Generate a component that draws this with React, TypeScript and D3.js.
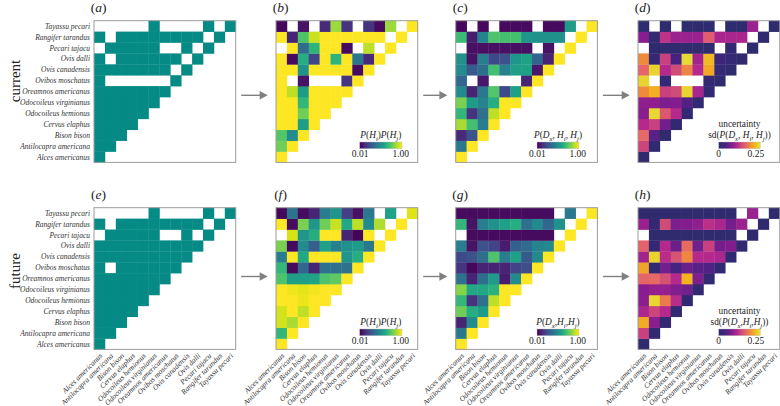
import React from "react";
import * as d3 from "d3";

const species = [
  "Alces americanus", "Antilocapra americana", "Bison bison", "Cervus elaphus",
  "Odocoileus hemionus", "Odocoileus virginianus", "Oreamnos americanus",
  "Ovibos moschatus", "Ovis canadensis", "Ovis dalli", "Pecari tajacu",
  "Rangifer tarandus", "Tayassu pecari",
];

// rows: index 0 = Alces americanus (bottom) ... 12 = Tayassu pecari (top); row r has r+1 columns
const presenceCurrent: number[][] = [
  [1],
  [1, 1],
  [1, 1, 1],
  [1, 1, 1, 1],
  [1, 1, 1, 1, 1],
  [1, 1, 1, 1, 1, 1],
  [1, 1, 1, 1, 1, 1, 1],
  [1, 0, 0, 0, 0, 0, 0, 1],
  [1, 1, 1, 1, 1, 1, 1, 0, 1],
  [1, 0, 1, 1, 1, 1, 1, 1, 0, 1],
  [0, 1, 1, 1, 1, 1, 0, 0, 1, 0, 1],
  [1, 0, 1, 1, 1, 1, 1, 1, 1, 1, 0, 1],
  [0, 0, 0, 0, 0, 1, 0, 0, 0, 0, 1, 0, 1],
];

const presenceFuture: number[][] = [
  [1],
  [1, 1],
  [1, 1, 1],
  [1, 1, 1, 1],
  [1, 1, 1, 1, 1],
  [1, 1, 1, 1, 1, 1],
  [1, 1, 1, 1, 1, 1, 1],
  [1, 0, 1, 1, 1, 1, 1, 1],
  [1, 1, 1, 1, 1, 1, 1, 1, 1],
  [1, 1, 1, 1, 1, 1, 1, 1, 1, 1],
  [0, 1, 1, 1, 1, 1, 0, 0, 1, 0, 1],
  [1, 0, 1, 1, 1, 1, 1, 1, 1, 1, 0, 1],
  [0, 0, 0, 0, 0, 1, 0, 0, 0, 0, 1, 0, 1],
];

type V = number | null;

const priorCurrent: V[][] = [
  [1.0],
  [0.78, 1.0],
  [0.73, 0.48, 1.0],
  [1.0, 1.0, 0.56, 1.0],
  [1.0, 1.0, 0.78, 1.0, 1.0],
  [1.0, 1.0, 0.66, 1.0, 1.0, 1.0],
  [1.0, 0.9, 0.55, 1.0, 1.0, 1.0, 1.0],
  [1.0, null, 0.05, null, null, null, 0.15, 1.0],
  [1.0, 1.0, 0.5, 1.0, 1.0, 1.0, 1.0, 0.03, 1.0],
  [1.0, 0.03, 0.62, 0.2, 1.0, 0.65, 1.0, 0.4, 0.12, 1.0],
  [null, 1.0, 0.35, 0.65, 1.0, 1.0, 0.03, null, 0.9, null, 1.0],
  [1.0, 0.1, 0.72, 0.92, 1.0, 1.0, 1.0, 1.0, 1.0, 1.0, null, 1.0],
  [0.02, null, 0.05, null, 0.12, 0.85, 0.15, null, 0.15, 0.03, 0.85, null, 1.0],
];

const postCurrent: V[][] = [
  [1.0],
  [0.4, 1.0],
  [0.12, 0.25, 1.0],
  [0.87, 0.7, 0.42, 1.0],
  [0.66, 0.15, 0.37, 0.9, 1.0],
  [0.8, 0.55, 0.45, 0.62, 1.0, 1.0],
  [0.48, 0.1, 0.4, 0.73, 0.22, 0.56, 1.0],
  [0.33, null, 0.06, null, null, null, 0.1, 1.0],
  [0.48, 0.28, 0.36, 0.7, 0.43, 0.56, 0.57, 0.06, 1.0],
  [0.5, 0.05, 0.42, 0.22, 0.25, 0.52, 0.57, 0.32, 0.1, 1.0],
  [null, 0.04, 0.04, 0.04, 0.04, 0.04, 0.04, null, 0.05, null, 1.0],
  [0.68, 0.08, 0.45, 0.72, 0.7, 0.7, 0.52, 0.5, 0.5, 0.5, null, 1.0],
  [0.02, null, 0.02, null, 0.03, 0.03, 0.03, null, 0.03, 0.03, 0.55, null, 1.0],
];

const sdCurrent: V[][] = [
  [0.03],
  [0.53, 0.04],
  [0.66, 0.2, 0.03],
  [0.45, 0.52, 0.27, 0.04],
  [0.33, 0.96, 0.6, 0.45, 0.04],
  [0.35, 0.35, 0.3, 0.32, 0.18, 0.04],
  [0.75, 0.85, 0.52, 0.55, 0.95, 0.42, 0.04],
  [0.95, null, 0.05, null, null, null, 0.05, 0.03],
  [0.65, 0.95, 0.45, 0.55, 0.73, 0.45, 0.83, 0.06, 0.03],
  [0.75, 0.05, 0.52, 0.15, 0.97, 0.4, 0.88, 0.1, 0.06, 0.03],
  [null, 0.03, 0.03, 0.03, 0.03, 0.03, 0.03, null, 0.05, null, 0.02],
  [0.33, 0.05, 0.48, 0.38, 0.38, 0.38, 0.62, 0.42, 0.42, 0.42, null, 0.03],
  [0.02, null, 0.02, null, 0.02, 0.02, 0.02, null, 0.02, 0.02, 0.38, null, 0.02],
];

const priorFuture: V[][] = [
  [1.0],
  [0.66, 1.0],
  [0.93, 0.87, 1.0],
  [0.93, 1.0, 0.9, 1.0],
  [1.0, 1.0, 0.97, 1.0, 1.0],
  [1.0, 0.98, 0.96, 0.98, 1.0, 1.0],
  [0.72, 0.56, 0.56, 0.58, 0.72, 0.75, 1.0],
  [0.66, 0.03, 0.33, 0.1, 0.37, 0.37, 0.37, 1.0],
  [0.42, 1.0, 0.6, 1.0, 1.0, 1.0, 0.52, 0.62, 1.0],
  [0.8, 0.03, 0.48, 0.3, 0.57, 0.43, 0.5, 0.55, 0.4, 1.0],
  [null, 0.94, 0.52, 0.62, 1.0, 1.0, 0.1, 0.01, 1.0, null, 1.0],
  [1.0, 0.03, 0.8, 0.52, 0.78, 0.92, 0.6, 0.9, 0.48, 0.88, null, 1.0],
  [0.02, 0.38, 0.03, 0.1, 0.42, 0.52, 0.18, 0.04, 0.4, null, 0.57, null, 0.95],
];

const postFuture: V[][] = [
  [1.0],
  [0.4, 1.0],
  [0.1, 0.48, 1.0],
  [0.78, 0.62, 0.55, 1.0],
  [0.66, 0.15, 0.37, 0.9, 1.0],
  [0.82, 0.6, 0.6, 0.64, 1.0, 1.0],
  [0.37, 0.1, 0.36, 0.55, 0.08, 0.48, 1.0],
  [0.15, 0.02, 0.1, 0.1, 0.1, 0.2, 0.24, 1.0],
  [0.22, 0.25, 0.36, 0.72, 0.42, 0.57, 0.28, 0.47, 1.0],
  [0.42, 0.05, 0.25, 0.2, 0.08, 0.3, 0.35, 0.45, 0.47, 1.0],
  [null, 0.03, 0.03, 0.03, 0.03, 0.03, 0.03, 0.03, 0.03, null, 1.0],
  [0.66, 0.05, 0.42, 0.5, 0.56, 0.62, 0.37, 0.47, 0.33, 0.5, null, 1.0],
  [0.03, 0.03, 0.03, 0.03, 0.03, 0.03, 0.03, 0.03, 0.03, null, 0.4, null, 1.0],
];

const sdFuture: V[][] = [
  [0.03],
  [0.52, 0.04],
  [0.84, 0.34, 0.04],
  [0.43, 0.53, 0.45, 0.04],
  [0.34, 0.96, 0.71, 0.46, 0.04],
  [0.33, 0.37, 0.37, 0.31, 0.27, 0.04],
  [0.65, 0.66, 0.57, 0.45, 0.86, 0.31, 0.04],
  [0.82, 0.04, 0.27, 0.15, 0.25, 0.2, 0.18, 0.04],
  [0.4, 0.95, 0.46, 0.58, 0.74, 0.45, 0.45, 0.43, 0.04],
  [0.64, 0.05, 0.45, 0.25, 0.67, 0.27, 0.52, 0.28, 0.32, 0.04],
  [null, 0.03, 0.03, 0.03, 0.03, 0.03, 0.03, 0.03, 0.03, null, 0.03],
  [0.38, 0.05, 0.55, 0.3, 0.32, 0.35, 0.47, 0.42, 0.28, 0.38, null, 0.03],
  [0.03, 0.03, 0.03, 0.03, 0.03, 0.03, 0.03, 0.03, 0.03, null, 0.38, null, 0.03],
];

const rowNames = ["current", "future"];
const panelLetters = [["a", "b", "c", "d"], ["e", "f", "g", "h"]];
const probTicks = ["0.01", "1.00"];
const sdTicks = ["0", "0.25"];

type Seg = { t: string; it?: boolean; sub?: boolean };
const titlePrior: Seg[] = [
  { t: "P", it: true }, { t: "(" }, { t: "H", it: true }, { t: "i", it: true, sub: true }, { t: ")" },
  { t: "P", it: true }, { t: "(" }, { t: "H", it: true }, { t: "j", it: true, sub: true }, { t: ")" },
];
const titlePostCur: Seg[] = [
  { t: "P", it: true }, { t: "(" }, { t: "D", it: true }, { t: "x", it: true, sub: true }, { t: ", " },
  { t: "H", it: true }, { t: "i", it: true, sub: true }, { t: ", " },
  { t: "H", it: true }, { t: "j", it: true, sub: true }, { t: ")" },
];
const titlePostFut: Seg[] = [
  { t: "P", it: true }, { t: "(" }, { t: "D", it: true }, { t: "x", it: true, sub: true }, { t: "," },
  { t: "H", it: true }, { t: "i", it: true, sub: true }, { t: "," },
  { t: "H", it: true }, { t: "j", it: true, sub: true }, { t: ")" },
];
const titleSdCur: Seg[] = [{ t: "sd(" }, ...titlePostCur, { t: ")" }];
const titleSdFut: Seg[] = [{ t: "sd(" }, ...titlePostFut, { t: ")" }];

const FONT = "'Liberation Serif', 'Times New Roman', serif";
const TEAL = "#058a86";
const FRAME = "#9c9c9c";
const ARROW = "#808080";

const cellSize = 10.9;
const side = cellSize * species.length;
const panelXs = [94, 276, 455.7, 638];
const panelYs = [20.7, 207.7];

const xBand = d3.scaleBand<string>().domain(species).range([0, side]);
const yBand = d3.scaleBand<string>().domain(species).range([side, 0]);

const viridis = d3.scaleSequential(d3.interpolateViridis).domain([0, 1]);
const sdColor = d3
  .scaleLinear<string>()
  .domain([0, 0.15, 0.33, 0.45, 0.55, 0.65, 0.75, 0.86, 1])
  .range(["#2a2c6b", "#462281", "#871d8f", "#b5288c", "#d04c78", "#e5656a", "#ef8a3a", "#f3b21f", "#e3e53a"])
  .interpolate(d3.interpolateRgb)
  .clamp(true);

function Title({ x, y, segs, size }: { x: number; y: number; segs: Seg[]; size: number }) {
  let shifted = false;
  const parts = segs.map((s, i) => {
    let dy: number | undefined;
    if (s.sub && !shifted) { dy = 2.3; shifted = true; }
    else if (!s.sub && shifted) { dy = -2.3; shifted = false; }
    return (
      <tspan key={i} dy={dy} fontStyle={s.it ? "italic" : "normal"} fontSize={s.sub ? size * 0.72 : size}>
        {s.t}
      </tspan>
    );
  });
  return (
    <text x={x} y={y} textAnchor="middle" fontFamily={FONT} fontSize={size} fill="#222">
      {parts}
    </text>
  );
}

type LegendSpec = { kind: "prob" | "sd"; segs: Seg[]; bx: number; bw: number };

function Legend({ spec, id }: { spec: LegendSpec; id: string }) {
  const by = 121.3;
  const bh = 6.7;
  const interp = spec.kind === "prob" ? (t: number) => viridis(t) : (t: number) => sdColor(t);
  const stops = d3.range(0, 1.0001, 0.05);
  const tickScale =
    spec.kind === "prob"
      ? d3.scaleLinear().domain([0, 1.03]).range([spec.bx, spec.bx + spec.bw])
      : d3.scaleLinear().domain([0, 0.28]).range([spec.bx, spec.bx + spec.bw]);
  const tickVals = spec.kind === "prob" ? [0.01, 1.0] : [0, 0.25];
  const tickText = spec.kind === "prob" ? probTicks : sdTicks;
  const cx = spec.bx + spec.bw / 2;
  return (
    <g>
      <defs>
        <linearGradient id={id} x1="0" x2="1" y1="0" y2="0">
          {stops.map((t, i) => (
            <stop key={i} offset={t} stopColor={interp(t)} />
          ))}
        </linearGradient>
      </defs>
      {spec.kind === "sd" && (
        <text x={cx} y={106.5} textAnchor="middle" fontFamily={FONT} fontSize={9.3} fill="#222">
          uncertainty
        </text>
      )}
      <Title x={cx} y={117.6} segs={spec.segs} size={9.3} />
      <rect x={spec.bx} y={by} width={spec.bw} height={bh} fill={`url(#${id})`} stroke="#bbb" strokeWidth={0.4} />
      {tickVals.map((v, i) => (
        <text key={i} x={tickScale(v)} y={136.8} textAnchor="middle" fontFamily={FONT} fontSize={9.5} fill="#222">
          {tickText[i]}
        </text>
      ))}
    </g>
  );
}

function Panel({
  x, y, data, fill, letter, yLabels, xLabels, legend, id,
}: {
  x: number; y: number; data: V[][]; fill: (v: number) => string | null; letter: string;
  yLabels: boolean; xLabels: boolean; legend?: LegendSpec; id: string;
}) {
  const bw = xBand.bandwidth();
  return (
    <g transform={`translate(${x},${y})`}>
      {data.map((row, r) =>
        row.map((v, c) => {
          if (v == null) return null;
          const f = fill(v);
          if (!f) return null;
          return (
            <rect
              key={`${r}-${c}`}
              x={xBand(species[c])}
              y={yBand(species[r])}
              width={bw + 0.35}
              height={bw + 0.35}
              fill={f}
            />
          );
        })
      )}
      <rect x={0} y={0} width={side} height={side} fill="none" stroke={FRAME} strokeWidth={1} />
      <text x={4.5} y={-8.7} textAnchor="middle" fontFamily={FONT} fontSize={13.5} fill="#222">
        (<tspan fontStyle="italic">{letter}</tspan>)
      </text>
      {yLabels &&
        species.map((s) => (
          <text
            key={s}
            x={-4}
            y={(yBand(s) as number) + bw / 2}
            dy="0.35em"
            textAnchor="end"
            fontFamily={FONT}
            fontStyle="italic"
            fontSize={7.5}
            fill="#333"
          >
            {s}
          </text>
        ))}
      {xLabels &&
        species.map((s) => (
          <text
            key={s}
            transform={`translate(${(xBand(s) as number) + bw / 2 + 1.5},${side + 5}) rotate(-45)`}
            dy="0.35em"
            textAnchor="end"
            fontFamily={FONT}
            fontStyle="italic"
            fontSize={7.5}
            fill="#333"
          >
            {s}
          </text>
        ))}
      {legend && <Legend spec={legend} id={id} />}
    </g>
  );
}

function Arrow({ x1, x2, y }: { x1: number; x2: number; y: number }) {
  return (
    <g>
      <line x1={x1} x2={x2 - 6} y1={y} y2={y} stroke={ARROW} strokeWidth={1.4} />
      <path d={`M${x2 - 8},${y - 4.2} L${x2},${y} L${x2 - 8},${y + 4.2} Z`} fill={ARROW} />
    </g>
  );
}

export default function App() {
  const rows = [
    {
      presence: presenceCurrent, prior: priorCurrent, post: postCurrent, sd: sdCurrent,
      tPost: titlePostCur, tSd: titleSdCur,
    },
    {
      presence: presenceFuture, prior: priorFuture, post: postFuture, sd: sdFuture,
      tPost: titlePostFut, tSd: titleSdFut,
    },
  ];
  const arrowYs = [95.3, 276.5];
  const rowLabelYs = [81, 271];
  return (
    <svg
      width={780}
      height={406}
      style={{ position: "absolute", left: 0, top: 0, background: "#fff" }}
    >
      <rect width={780} height={406} fill="#fff" />
      {rows.map((row, ri) => {
        const py = panelYs[ri];
        const bottom = ri === 1;
        return (
          <g key={ri}>
            <text
              transform={`translate(20,${rowLabelYs[ri]}) rotate(-90)`}
              textAnchor="middle"
              fontFamily={FONT}
              fontSize={15}
              fill="#222"
            >
              {rowNames[ri]}
            </text>
            <Panel
              id={`p${ri}0`} x={panelXs[0]} y={py} data={row.presence}
              fill={(v) => (v ? TEAL : null)} letter={panelLetters[ri][0]}
              yLabels={true} xLabels={bottom}
            />
            <Panel
              id={`p${ri}1`} x={panelXs[1]} y={py} data={row.prior}
              fill={(v) => viridis(v)} letter={panelLetters[ri][1]}
              yLabels={false} xLabels={bottom}
              legend={{ kind: "prob", segs: titlePrior, bx: 83.7, bw: 42.3 }}
            />
            <Panel
              id={`p${ri}2`} x={panelXs[2]} y={py} data={row.post}
              fill={(v) => viridis(v)} letter={panelLetters[ri][2]}
              yLabels={false} xLabels={bottom}
              legend={{ kind: "prob", segs: row.tPost, bx: 81.3, bw: 42 }}
            />
            <Panel
              id={`p${ri}3`} x={panelXs[3]} y={py} data={row.sd}
              fill={(v) => sdColor(v)} letter={panelLetters[ri][3]}
              yLabels={false} xLabels={bottom}
              legend={{ kind: "sd", segs: row.tSd, bx: 80.7, bw: 41.6 }}
            />
            {[0, 1, 2].map((k) => (
              <Arrow
                key={k}
                x1={panelXs[k] + side + 5.5}
                x2={panelXs[k + 1] - 8.3}
                y={arrowYs[ri]}
              />
            ))}
          </g>
        );
      })}
    </svg>
  );
}
